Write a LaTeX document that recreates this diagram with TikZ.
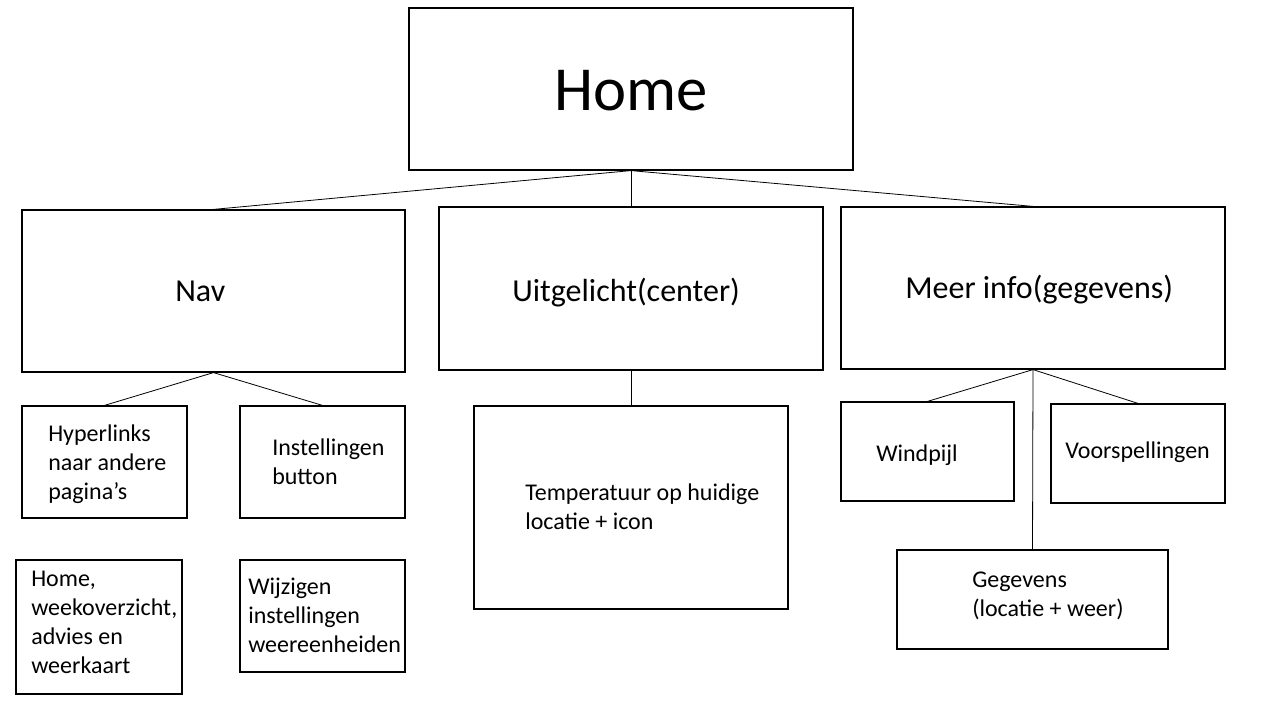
\documentclass[tikz,border=0pt]{standalone}
\usepackage{fontspec}
\setmainfont{Carlito}
\newcommand\mylsp{\baselineskip=21.75pt}
\newcommand\smalltxt{\fontsize{18}{21.75}\selectfont}
\newcommand\midtxt{\fontsize{24}{29}\selectfont}
\tikzset{
  box/.style={draw=black, line width=0.9pt, inner sep=0pt, fill=none},
  txt/.style={inner sep=0pt, anchor=base west, font=\smalltxt},
  midlabel/.style={inner sep=0pt, anchor=base west, font=\midtxt},
  conn/.style={draw=black, line width=0.6pt}
}
\begin{document}
\begin{tikzpicture}[x=0.75pt, y=-0.75pt]
\useasboundingbox[fill=white] (0,0) rectangle (1280,720);

% boxes
\node[box, minimum width=333pt, minimum height=121.5pt] (home) at (631,89) {};
\node[box, minimum width=287.25pt, minimum height=121.5pt] (nav) at (213.5,291) {};
\node[box, minimum width=288pt, minimum height=122.25pt] (uit) at (631,288.5) {};
\node[box, minimum width=288pt, minimum height=121.5pt] (meer) at (1033,288) {};
\node[box, minimum width=123.75pt, minimum height=84pt] (hyper) at (104.5,462) {};
\node[box, minimum width=123.75pt, minimum height=84pt] (inst) at (322.5,462) {};
\node[box, minimum width=124.5pt, minimum height=100.5pt] (hlist) at (99,627) {};
\node[box, minimum width=123.75pt, minimum height=84pt] (wijz) at (322.5,616) {};
\node[box, minimum width=235.5pt, minimum height=152.25pt] (temp) at (631,507.5) {};
\node[box, minimum width=129.75pt, minimum height=74.25pt] (wind) at (927.5,451.5) {};
\node[box, minimum width=130.5pt, minimum height=74.25pt] (voor) at (1138,453.5) {};
\node[box, minimum width=203.25pt, minimum height=74.25pt] (gegev) at (1032.5,599.5) {};

% texts
\node[inner sep=0pt, anchor=base, font=\fontsize{47}{56}\selectfont] (thome) at (631,111) {Home};
\node[midlabel] (tnav) at (175,301) {Nav};
\node[midlabel] (tuit) at (512,301) {Uitgelicht(center)};
\node[midlabel] (tmeer) at (905,298) {Meer info(gegevens)};
\node[txt] (thyper) at (48,441) {\vtop{\mylsp\hbox{Hyperlinks}\hbox{naar andere}\hbox{pagina’s}}};
\node[txt] (tinst) at (272,455) {\vtop{\mylsp\hbox{Instellingen}\hbox{button}}};
\node[txt] (thlist) at (31,586) {\vtop{\mylsp\hbox{Home,}\hbox{weekoverzicht,}\hbox{advies en}\hbox{weerkaart}}};
\node[txt] (twijz) at (248,594) {\vtop{\mylsp\hbox{Wijzigen}\hbox{instellingen}\hbox{weereenheiden}}};
\node[txt] (ttemp) at (525,500) {\vtop{\mylsp\hbox{Temperatuur op huidige}\hbox{locatie + icon}}};
\node[txt] (twind) at (876,461) {Windpijl};
\node[txt] (tvoor) at (1065,458) {Voorspellingen};
\node[txt] (tgegev) at (972,587) {\vtop{\mylsp\hbox{Gegevens}\hbox{(locatie + weer)}}};

% connectors
\draw[conn] (home.south) -- (nav.north);
\draw[conn] (home.south) -- (uit.north);
\draw[conn] (home.south) -- (meer.north);
\draw[conn] (nav.south) -- (hyper.north);
\draw[conn] (nav.south) -- (inst.north);
\draw[conn] (uit.south) -- (temp.north);
\draw[conn] (meer.south) -- (wind.north);
\draw[conn] (meer.south) -- (voor.north);
\draw[conn] (meer.south) -- (gegev.north);
\end{tikzpicture}
\end{document}
